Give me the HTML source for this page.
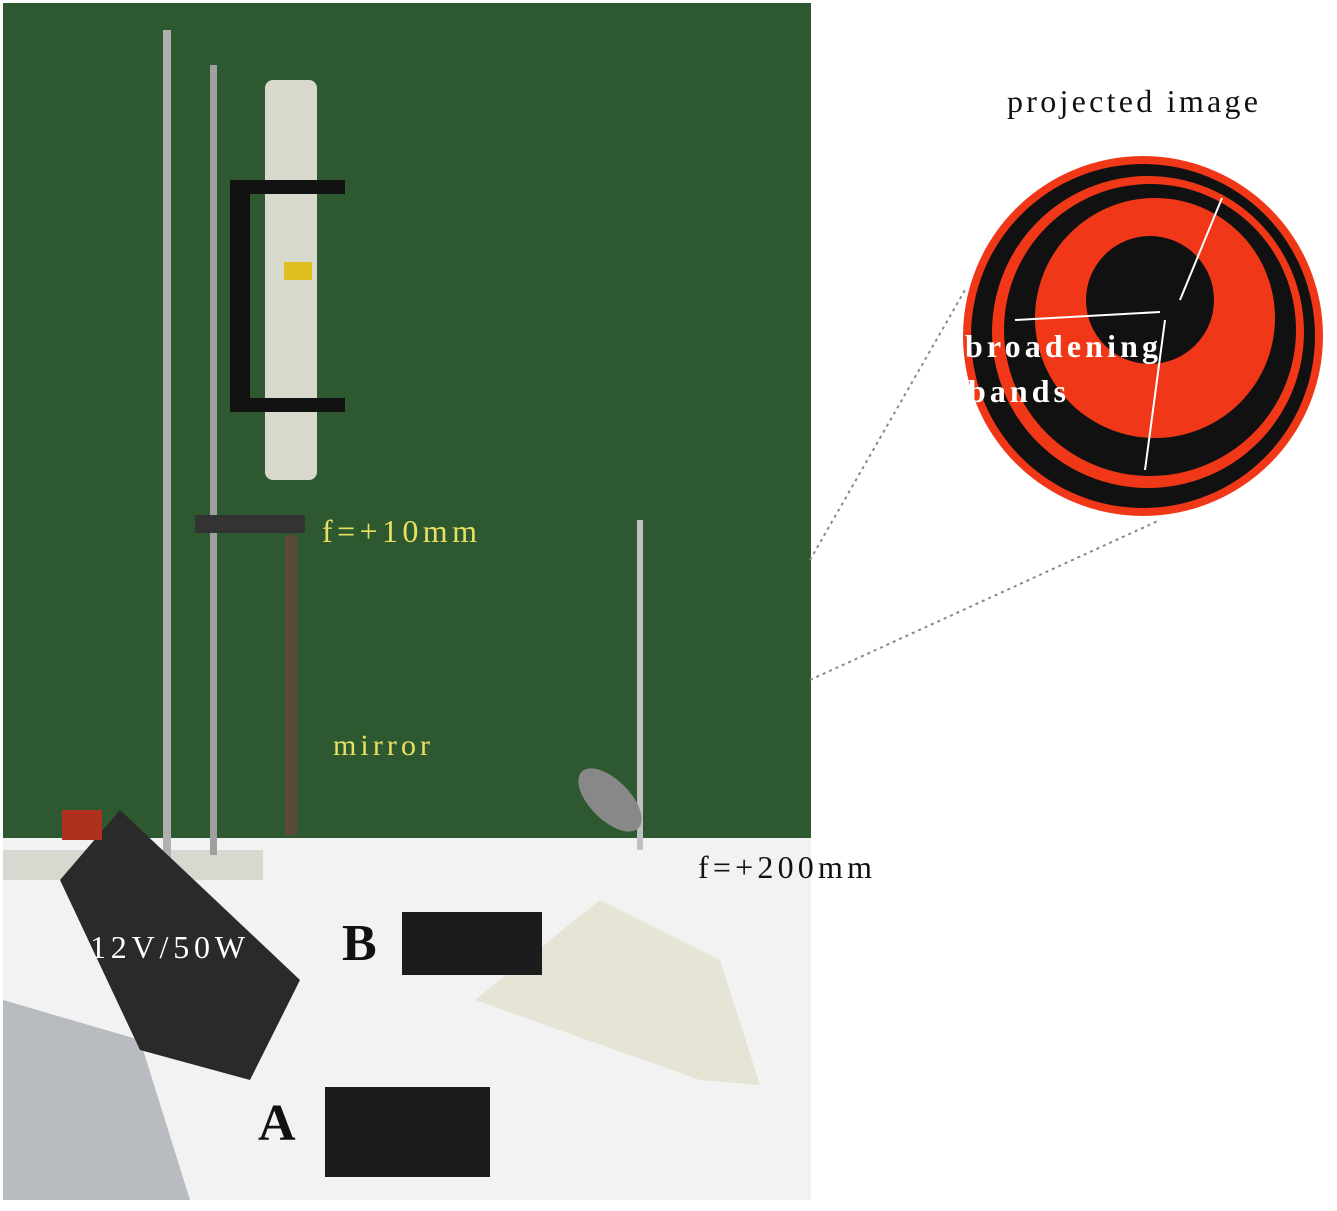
<!DOCTYPE html>
<html><head><meta charset="utf-8">
<style>
html,body{margin:0;padding:0;background:#fff;}
svg{display:block;}
text{font-family:"Liberation Serif",serif;}
</style></head>
<body>
<svg width="1337" height="1211" viewBox="0 0 1337 1211">
  <rect x="0" y="0" width="1337" height="1211" fill="#ffffff"/>
  <g>
    <rect x="3" y="3" width="808" height="835" fill="#2d5830"/>
    <rect x="3" y="838" width="808" height="362" fill="#f2f2f2"/>
    <rect x="3" y="850" width="260" height="30" fill="#d8d8d0"/>
    <polygon points="3,1000 140,1040 190,1200 3,1200" fill="#b8bcc0"/>
    <rect x="163" y="30" width="8" height="830" fill="#b0b0b0"/>
    <rect x="210" y="65" width="7" height="790" fill="#a0a0a0"/>
    <rect x="265" y="80" width="52" height="400" rx="8" fill="#d8d8cc"/>
    <rect x="230" y="180" width="20" height="225" fill="#111"/>
    <rect x="230" y="180" width="115" height="14" fill="#111"/>
    <rect x="230" y="398" width="115" height="14" fill="#111"/>
    <rect x="284" y="262" width="28" height="18" fill="#e0c020"/>
    <rect x="195" y="515" width="110" height="18" fill="#333"/>
    <rect x="285" y="535" width="12" height="300" fill="#5a4a3a"/>
    <rect x="637" y="520" width="6" height="330" fill="#c0c0c0"/>
    <ellipse cx="610" cy="800" rx="40" ry="20" transform="rotate(45 610 800)" fill="#888"/>
    <polygon points="475,1000 600,900 720,960 760,1085 700,1080" fill="#e6e4d4"/>
    <polygon points="60,880 120,810 300,980 250,1080 140,1050" fill="#2a2a2a"/>
    <rect x="62" y="810" width="40" height="30" fill="#b03020"/>
    <rect x="402" y="912" width="140" height="63" fill="#1c1c1c"/>
    <rect x="325" y="1087" width="165" height="90" fill="#1c1c1c"/>
  </g>
  <g stroke="#888" stroke-dasharray="3,4" stroke-width="2">
    <line x1="810" y1="560" x2="965" y2="290"/>
    <line x1="810" y1="680" x2="1160" y2="520"/>
  </g>
  <g>
    <circle cx="1143" cy="336" r="180" fill="#f03818"/>
    <circle cx="1143" cy="336" r="172" fill="#111"/>
    <circle cx="1148" cy="332" r="156" fill="#f03818"/>
    <circle cx="1150" cy="330" r="146" fill="#111"/>
    <circle cx="1155" cy="318" r="120" fill="#f03818"/>
    <circle cx="1150" cy="300" r="64" fill="#111"/>
    <g stroke="#fff" stroke-width="2" fill="none">
      <line x1="1160" y1="312" x2="1015" y2="320"/>
      <line x1="1180" y1="300" x2="1222" y2="198"/>
      <line x1="1165" y1="320" x2="1145" y2="470"/>
    </g>
    <text x="965" y="357" font-size="32" font-weight="bold" fill="#fff" textLength="193">broadening</text>
    <text x="968" y="402" font-size="32" font-weight="bold" fill="#fff" textLength="98">bands</text>
  </g>
  <text x="1007" y="112" font-size="32" fill="#111" textLength="251">projected image</text>
  <text x="322" y="542" font-size="32" fill="#e8e060" textLength="155">f=+10mm</text>
  <text x="333" y="755" font-size="30" fill="#e8e060" textLength="97">mirror</text>
  <text x="698" y="878" font-size="32" fill="#111" textLength="174">f=+200mm</text>
  <text x="90" y="958" font-size="32" fill="#fff" textLength="155">12V/50W</text>
  <text x="342" y="960" font-size="52" font-weight="bold" fill="#111">B</text>
  <text x="258" y="1140" font-size="52" font-weight="bold" fill="#111">A</text>
</svg>
</body></html>
